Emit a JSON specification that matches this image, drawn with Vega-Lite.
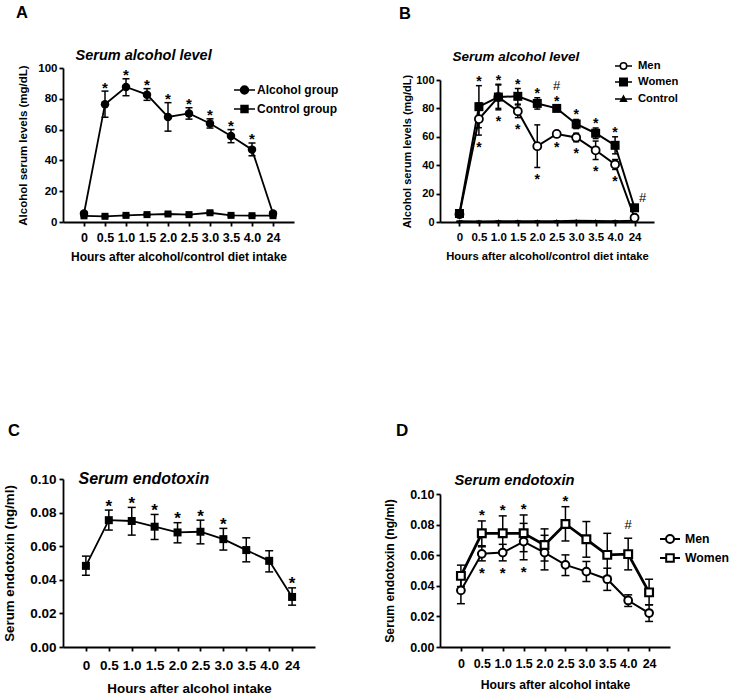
{
  "$schema": "https://vega.github.io/schema/vega-lite/v6.json",
  "padding": {"left": 2, "top": 5, "right": 2, "bottom": 2},
  "bounds": "flush",
  "columns": 2,
  "spacing": {"row": 257, "column": 125},
  "resolve": {"scale": {"shape": "independent", "fill": "independent", "stroke": "independent", "size": "independent", "strokeWidth": "independent"}, "legend": {"shape": "independent", "fill": "independent", "stroke": "independent"}},
  "datasets": {
    "a": [
      {"time": "0", "group": "Alcohol group", "mean": 5.5, "lo": 4.5, "hi": 6.5},
      {"time": "0.5", "group": "Alcohol group", "mean": 76.5, "lo": 68, "hi": 85, "above": "*"},
      {"time": "1.0", "group": "Alcohol group", "mean": 87.7, "lo": 82, "hi": 93, "above": "*"},
      {"time": "1.5", "group": "Alcohol group", "mean": 82.7, "lo": 79, "hi": 86.6, "above": "*"},
      {"time": "2.0", "group": "Alcohol group", "mean": 68.2, "lo": 59, "hi": 77.5, "above": "*"},
      {"time": "2.5", "group": "Alcohol group", "mean": 70.5, "lo": 66.8, "hi": 74.2, "above": "*"},
      {"time": "3.0", "group": "Alcohol group", "mean": 64, "lo": 61, "hi": 67, "above": "*"},
      {"time": "3.5", "group": "Alcohol group", "mean": 55.8, "lo": 51.5, "hi": 60, "above": "*"},
      {"time": "4.0", "group": "Alcohol group", "mean": 47, "lo": 43, "hi": 51.3, "above": "*"},
      {"time": "24", "group": "Alcohol group", "mean": 5.5, "lo": 4.5, "hi": 6.5},
      {"time": "0", "group": "Control group", "mean": 4, "lo": 3.5, "hi": 4.5},
      {"time": "0.5", "group": "Control group", "mean": 3.7, "lo": 3.2, "hi": 4.2},
      {"time": "1.0", "group": "Control group", "mean": 4.3, "lo": 3.8, "hi": 4.8},
      {"time": "1.5", "group": "Control group", "mean": 4.8, "lo": 4.3, "hi": 5.3},
      {"time": "2.0", "group": "Control group", "mean": 5.2, "lo": 4.7, "hi": 5.7},
      {"time": "2.5", "group": "Control group", "mean": 4.8, "lo": 4.3, "hi": 5.3},
      {"time": "3.0", "group": "Control group", "mean": 6, "lo": 5.3, "hi": 6.7},
      {"time": "3.5", "group": "Control group", "mean": 4.3, "lo": 3.8, "hi": 4.8},
      {"time": "4.0", "group": "Control group", "mean": 4.1, "lo": 3.6, "hi": 4.6},
      {"time": "24", "group": "Control group", "mean": 4.1, "lo": 3.6, "hi": 4.6}
    ],
    "b": [
      {"time": "0", "group": "Men", "mean": 5.5, "lo": 4.5, "hi": 6.5},
      {"time": "0.5", "group": "Men", "mean": 72.5, "lo": 61.2, "hi": 83.8, "below": "*"},
      {"time": "1.0", "group": "Men", "mean": 88, "lo": 79, "hi": 97, "below": "*"},
      {"time": "1.5", "group": "Men", "mean": 78, "lo": 73.5, "hi": 82.5, "below": "*"},
      {"time": "2.0", "group": "Men", "mean": 53.4, "lo": 38.4, "hi": 68.4, "below": "*"},
      {"time": "2.5", "group": "Men", "mean": 62, "lo": 61, "hi": 63, "below": "*"},
      {"time": "3.0", "group": "Men", "mean": 59.5, "lo": 56.5, "hi": 62.5, "below": "*"},
      {"time": "3.5", "group": "Men", "mean": 50.5, "lo": 44, "hi": 57, "below": "*"},
      {"time": "4.0", "group": "Men", "mean": 40.5, "lo": 37, "hi": 44, "below": "*"},
      {"time": "24", "group": "Men", "mean": 3, "lo": 2, "hi": 4},
      {"time": "0", "group": "Women", "mean": 6, "lo": 5, "hi": 7},
      {"time": "0.5", "group": "Women", "mean": 81.2, "lo": 66.4, "hi": 96, "above": "*"},
      {"time": "1.0", "group": "Women", "mean": 88, "lo": 80, "hi": 96.5, "above": "*"},
      {"time": "1.5", "group": "Women", "mean": 88.5, "lo": 83, "hi": 94, "above": "*"},
      {"time": "2.0", "group": "Women", "mean": 83.5, "lo": 79.5, "hi": 87.5, "above": "*"},
      {"time": "2.5", "group": "Women", "mean": 80, "lo": 78, "hi": 82, "above": "*", "above2": "#"},
      {"time": "3.0", "group": "Women", "mean": 69, "lo": 65.8, "hi": 72.2, "above": "*"},
      {"time": "3.5", "group": "Women", "mean": 62.5, "lo": 58.8, "hi": 66.2, "above": "*"},
      {"time": "4.0", "group": "Women", "mean": 54, "lo": 48, "hi": 60, "above": "*"},
      {"time": "24", "group": "Women", "mean": 10, "lo": 9, "hi": 11, "side": "#"},
      {"time": "0", "group": "Control", "mean": 0.5, "lo": 0.5, "hi": 0.5},
      {"time": "0.5", "group": "Control", "mean": 0.4, "lo": 0.4, "hi": 0.4},
      {"time": "1.0", "group": "Control", "mean": 0.5, "lo": 0.5, "hi": 0.5},
      {"time": "1.5", "group": "Control", "mean": 0.5, "lo": 0.5, "hi": 0.5},
      {"time": "2.0", "group": "Control", "mean": 0.5, "lo": 0.5, "hi": 0.5},
      {"time": "2.5", "group": "Control", "mean": 0.6, "lo": 0.6, "hi": 0.6},
      {"time": "3.0", "group": "Control", "mean": 0.9, "lo": 0.9, "hi": 0.9},
      {"time": "3.5", "group": "Control", "mean": 0.7, "lo": 0.7, "hi": 0.7},
      {"time": "4.0", "group": "Control", "mean": 0.6, "lo": 0.6, "hi": 0.6},
      {"time": "24", "group": "Control", "mean": 0.8, "lo": 0.8, "hi": 0.8}
    ],
    "c": [
      {"time": "0", "mean": 0.0483, "lo": 0.0427, "hi": 0.0541},
      {"time": "0.5", "mean": 0.0755, "lo": 0.0696, "hi": 0.0815, "above": "*"},
      {"time": "1.0", "mean": 0.075, "lo": 0.0666, "hi": 0.0831, "above": "*"},
      {"time": "1.5", "mean": 0.0716, "lo": 0.064, "hi": 0.0789, "above": "*"},
      {"time": "2.0", "mean": 0.0682, "lo": 0.062, "hi": 0.074, "above": "*"},
      {"time": "2.5", "mean": 0.0686, "lo": 0.0614, "hi": 0.0755, "above": "*"},
      {"time": "3.0", "mean": 0.0642, "lo": 0.0577, "hi": 0.0706, "above": "*"},
      {"time": "3.5", "mean": 0.0577, "lo": 0.0507, "hi": 0.065},
      {"time": "4.0", "mean": 0.0513, "lo": 0.0447, "hi": 0.0573},
      {"time": "24", "mean": 0.0298, "lo": 0.0249, "hi": 0.0352, "above": "*"}
    ],
    "d": [
      {"time": "0", "group": "Women", "mean": 0.0465, "lo": 0.0395, "hi": 0.0535},
      {"time": "0.5", "group": "Women", "mean": 0.0743, "lo": 0.0662, "hi": 0.0824, "above": "*"},
      {"time": "1.0", "group": "Women", "mean": 0.0743, "lo": 0.0629, "hi": 0.0857, "above": "*"},
      {"time": "1.5", "group": "Women", "mean": 0.0743, "lo": 0.0623, "hi": 0.0863, "above": "*"},
      {"time": "2.0", "group": "Women", "mean": 0.0667, "lo": 0.0562, "hi": 0.0772},
      {"time": "2.5", "group": "Women", "mean": 0.0804, "lo": 0.0693, "hi": 0.0917, "above": "*"},
      {"time": "3.0", "group": "Women", "mean": 0.0704, "lo": 0.0587, "hi": 0.082},
      {"time": "3.5", "group": "Women", "mean": 0.0602, "lo": 0.0461, "hi": 0.0743},
      {"time": "4.0", "group": "Women", "mean": 0.0607, "lo": 0.0504, "hi": 0.0711, "above2": "#"},
      {"time": "24", "group": "Women", "mean": 0.0357, "lo": 0.0276, "hi": 0.0443},
      {"time": "0", "group": "Men", "mean": 0.037, "lo": 0.0283, "hi": 0.0457},
      {"time": "0.5", "group": "Men", "mean": 0.0609, "lo": 0.0563, "hi": 0.0655, "below": "*"},
      {"time": "1.0", "group": "Men", "mean": 0.0617, "lo": 0.0563, "hi": 0.0671, "below": "*"},
      {"time": "1.5", "group": "Men", "mean": 0.0689, "lo": 0.057, "hi": 0.0808, "below": "*"},
      {"time": "2.0", "group": "Men", "mean": 0.0617, "lo": 0.0504, "hi": 0.073},
      {"time": "2.5", "group": "Men", "mean": 0.0537, "lo": 0.0467, "hi": 0.0602},
      {"time": "3.0", "group": "Men", "mean": 0.0493, "lo": 0.0428, "hi": 0.0559},
      {"time": "3.5", "group": "Men", "mean": 0.0443, "lo": 0.037, "hi": 0.0515},
      {"time": "4.0", "group": "Men", "mean": 0.0304, "lo": 0.0265, "hi": 0.0341},
      {"time": "24", "group": "Men", "mean": 0.0222, "lo": 0.0167, "hi": 0.0276}
    ]
  },
  "concat": [
    {
      "width": 231, "height": 154,
      "data": {"name": "a"},
      "title": {"text": "A", "anchor": "start", "frame": "group", "dx": -47, "offset": 13, "baseline": "alphabetic", "fontSize": 16.5},
      "resolve": {"axis": {"x": "independent"}},
      "layer": [
        {
          "encoding": {"x": {"field": "time", "type": "ordinal", "scale": {"type": "point", "padding": 1, "domain": ["0","0.5","1.0","1.5","2.0","2.5","3.0","3.5","4.0","24"]},
            "axis": {"title": "Hours after alcohol/control diet intake", "labelAngle": 0, "labelFontSize": 12.5, "labelPadding": 5, "titleFontSize": 12, "titlePadding": 8}}},
          "layer": [
            {"mark": {"type": "rule", "color": "black", "strokeWidth": 1.5},
             "encoding": {"y": {"field": "lo", "type": "quantitative", "scale": {"domain": [0, 100], "nice": false},
               "axis": {"title": "Alcohol serum levels (mg/dL)", "values": [0, 20, 40, 60, 80, 100], "tickCount": 6, "labelFontSize": 11.5, "labelPadding": 2, "titleFontSize": 11.5, "titlePadding": 9}},
               "y2": {"field": "hi"}}},
            {"mark": {"type": "tick", "color": "black", "thickness": 1.5, "size": 7, "opacity": 1}, "encoding": {"y": {"field": "lo", "type": "quantitative"}}},
            {"mark": {"type": "tick", "color": "black", "thickness": 1.5, "size": 7, "opacity": 1}, "encoding": {"y": {"field": "hi", "type": "quantitative"}}},
            {"mark": {"type": "line", "color": "black", "strokeWidth": 1.8}, "encoding": {"y": {"field": "mean", "type": "quantitative"}, "detail": {"field": "group"}}},
            {"transform": [{"filter": "datum.group == 'Alcohol group'"}],
             "mark": {"type": "point", "shape": "circle", "filled": true, "color": "black", "opacity": 1, "size": 72},
             "encoding": {"y": {"field": "mean", "type": "quantitative"}}},
            {"transform": [{"filter": "datum.group == 'Control group'"}],
             "mark": {"type": "point", "shape": "square", "filled": true, "color": "black", "opacity": 1, "size": 49},
             "encoding": {"y": {"field": "mean", "type": "quantitative"}}},
            {"transform": [{"filter": "datum.time == '0'"}],
             "mark": {"type": "point", "opacity": 0},
             "encoding": {
               "y": {"field": "mean", "type": "quantitative"},
               "shape": {"field": "group", "type": "nominal", "scale": {"domain": ["Alcohol group", "Control group"],
                 "range": ["M-1,0H1M0.38,0A0.38,0.38,0,1,1,-0.38,0A0.38,0.38,0,1,1,0.38,0Z", "M-1,0H1M-0.33,-0.33H0.33V0.33H-0.33Z"]},
                 "legend": {"title": null, "orient": "none", "legendX": 170, "legendY": 10.5, "symbolSize": 441, "symbolStrokeWidth": 1.5, "symbolOpacity": 1, "labelFontSize": 12, "labelOffset": 1, "rowPadding": -3}},
               "fill": {"field": "group", "type": "nominal", "scale": {"domain": ["Alcohol group", "Control group"], "range": ["black", "black"]},
                 "legend": {"title": null, "orient": "none", "legendX": 170, "legendY": 10.5, "symbolSize": 441, "symbolStrokeWidth": 1.5, "symbolOpacity": 1, "labelFontSize": 12, "labelOffset": 1, "rowPadding": -3}},
               "stroke": {"field": "group", "type": "nominal", "scale": {"domain": ["Alcohol group", "Control group"], "range": ["black", "black"]},
                 "legend": {"title": null, "orient": "none", "legendX": 170, "legendY": 10.5, "symbolSize": 441, "symbolStrokeWidth": 1.5, "symbolOpacity": 1, "labelFontSize": 12, "labelOffset": 1, "rowPadding": -3}}}}
          ]
        },
        {
          "transform": [{"filter": "datum.above"}],
          "mark": {"type": "text", "color": "black", "fontSize": 15, "fontWeight": "bold", "baseline": "alphabetic", "dy": 1.4},
          "encoding": {
            "x": {"field": "time", "type": "ordinal", "scale": {"type": "point", "padding": 1, "domain": ["0","0.5","1.0","1.5","2.0","2.5","3.0","3.5","4.0","24"]},
              "axis": {"orient": "top", "title": "Serum alcohol level", "domain": false, "ticks": false, "labels": false, "titleFontStyle": "italic", "titleFontSize": 14.5, "titleAnchor": "start", "titleAlign": "left", "titleBaseline": "alphabetic", "titleX": 12, "titleY": -8.5}},
            "y": {"field": "hi", "type": "quantitative"},
            "text": {"field": "above"}}
        }
      ]
    },
    {
      "width": 214, "height": 154,
      "data": {"name": "b"},
      "title": {"text": "B", "anchor": "start", "frame": "group", "dx": -41, "offset": 14, "baseline": "alphabetic", "fontSize": 16.5},
      "resolve": {"axis": {"x": "independent"}},
      "layer": [
        {
          "encoding": {"x": {"field": "time", "type": "ordinal", "scale": {"type": "point", "padding": 1, "domain": ["0","0.5","1.0","1.5","2.0","2.5","3.0","3.5","4.0","24"]},
            "axis": {"title": "Hours after alcohol/control diet intake", "labelAngle": 0, "labelFontSize": 11.5, "labelPadding": 5.3, "titleFontSize": 11.25, "titlePadding": 7.2}}},
          "layer": [
            {"mark": {"type": "rule", "color": "black", "strokeWidth": 1.5},
             "encoding": {"y": {"field": "lo", "type": "quantitative", "scale": {"domain": [0, 100], "range": [154, 12], "nice": false},
               "axis": {"title": "Alcohol serum levels (mg/dL)", "values": [0, 20, 40, 60, 80, 100], "tickCount": 6, "labelFontSize": 11, "labelPadding": 2, "titleFontSize": 11, "titlePadding": 3.5}},
               "y2": {"field": "hi"}}},
            {"mark": {"type": "tick", "color": "black", "thickness": 1.5, "size": 6, "opacity": 1}, "encoding": {"y": {"field": "lo", "type": "quantitative"}}},
            {"mark": {"type": "tick", "color": "black", "thickness": 1.5, "size": 6, "opacity": 1}, "encoding": {"y": {"field": "hi", "type": "quantitative"}}},
            {"mark": {"type": "line", "color": "black", "strokeWidth": 2}, "encoding": {"y": {"field": "mean", "type": "quantitative"}, "detail": {"field": "group"}}},
            {"transform": [{"filter": "datum.group == 'Control'"}],
             "mark": {"type": "point", "shape": "triangle-up", "filled": true, "color": "black", "opacity": 1, "size": 22},
             "encoding": {"y": {"field": "mean", "type": "quantitative"}}},
            {"transform": [{"filter": "datum.group == 'Men'"}],
             "mark": {"type": "point", "shape": "circle", "fill": "white", "stroke": "black", "strokeWidth": 1.8, "opacity": 1, "size": 64},
             "encoding": {"y": {"field": "mean", "type": "quantitative"}}},
            {"transform": [{"filter": "datum.group == 'Women'"}],
             "mark": {"type": "point", "shape": "square", "filled": true, "color": "black", "opacity": 1, "size": 81},
             "encoding": {"y": {"field": "mean", "type": "quantitative"}}},
            {"transform": [{"filter": "datum.time == '0'"}],
             "mark": {"type": "point", "opacity": 0},
             "encoding": {
               "y": {"field": "mean", "type": "quantitative"},
               "shape": {"field": "group", "type": "nominal", "scale": {"domain": ["Men", "Women", "Control"],
                 "range": ["M-1,0H-0.38M0.38,0H1M0.38,0A0.38,0.38,0,1,1,-0.38,0A0.38,0.38,0,1,1,0.38,0Z", "M-1,0H1M-0.44,-0.44H0.44V0.44H-0.44Z", "M-1,0H1M0,-0.34L0.34,0.26H-0.34Z"]},
                 "legend": {"title": null, "orient": "none", "legendX": 174, "legendY": -11.5, "symbolSize": 289, "symbolStrokeWidth": 1.5, "symbolOpacity": 1, "labelFontSize": 11.25, "labelOffset": 5, "rowPadding": 0}},
               "fill": {"field": "group", "type": "nominal", "scale": {"domain": ["Men", "Women", "Control"], "range": ["white", "black", "black"]},
                 "legend": {"title": null, "orient": "none", "legendX": 174, "legendY": -11.5, "symbolSize": 289, "symbolStrokeWidth": 1.5, "symbolOpacity": 1, "labelFontSize": 11.25, "labelOffset": 5, "rowPadding": 0}},
               "stroke": {"field": "group", "type": "nominal", "scale": {"domain": ["Men", "Women", "Control"], "range": ["black", "black", "black"]},
                 "legend": {"title": null, "orient": "none", "legendX": 174, "legendY": -11.5, "symbolSize": 289, "symbolStrokeWidth": 1.5, "symbolOpacity": 1, "labelFontSize": 11.25, "labelOffset": 5, "rowPadding": 0}}}}
          ]
        },
        {
          "encoding": {"x": {"field": "time", "type": "ordinal", "scale": {"type": "point", "padding": 1, "domain": ["0","0.5","1.0","1.5","2.0","2.5","3.0","3.5","4.0","24"]},
            "axis": {"orient": "top", "title": "Serum alcohol level", "domain": false, "ticks": false, "labels": false, "titleFontStyle": "italic", "titleFontSize": 13.5, "titleAnchor": "start", "titleAlign": "left", "titleBaseline": "alphabetic", "titleX": 12, "titleY": -8}}},
          "layer": [
            {"transform": [{"filter": "datum.above"}], "mark": {"type": "text", "color": "black", "fontSize": 14, "fontWeight": "bold", "baseline": "alphabetic", "dy": 0},
             "encoding": {"y": {"field": "hi", "type": "quantitative"}, "text": {"field": "above"}}},
            {"transform": [{"filter": "datum.above2"}], "mark": {"type": "text", "color": "black", "fontSize": 13, "fontWeight": "normal", "baseline": "alphabetic", "dy": -15.8},
             "encoding": {"y": {"field": "hi", "type": "quantitative"}, "text": {"field": "above2"}}},
            {"transform": [{"filter": "datum.side"}], "mark": {"type": "text", "color": "black", "fontSize": 13, "fontWeight": "normal", "baseline": "alphabetic", "dx": 8, "dy": -4.5},
             "encoding": {"y": {"field": "hi", "type": "quantitative"}, "text": {"field": "side"}}},
            {"transform": [{"filter": "datum.below"}], "mark": {"type": "text", "color": "black", "fontSize": 14, "fontWeight": "bold", "baseline": "alphabetic", "dy": 16.5},
             "encoding": {"y": {"field": "lo", "type": "quantitative"}, "text": {"field": "below"}}}
          ]
        }
      ]
    },
    {
      "width": 252, "height": 168,
      "data": {"name": "c"},
      "title": {"text": "C", "anchor": "start", "frame": "group", "dx": -55, "offset": 18, "baseline": "alphabetic", "fontSize": 16.5},
      "resolve": {"axis": {"x": "independent"}},
      "layer": [
        {
          "encoding": {"x": {"field": "time", "type": "ordinal", "scale": {"type": "point", "padding": 1, "domain": ["0","0.5","1.0","1.5","2.0","2.5","3.0","3.5","4.0","24"]},
            "axis": {"title": "Hours after alcohol intake", "labelAngle": 0, "labelFontSize": 13.5, "labelPadding": 7.3, "titleFontSize": 13.4, "titlePadding": 9.9}}},
          "layer": [
            {"mark": {"type": "rule", "color": "black", "strokeWidth": 1.5},
             "encoding": {"y": {"field": "lo", "type": "quantitative", "scale": {"domain": [0, 0.1], "nice": false},
               "axis": {"title": "Serum endotoxin (ng/ml)", "values": [0, 0.02, 0.04, 0.06, 0.08, 0.1], "tickCount": 6, "format": ".2f", "labelFontSize": 13.5, "labelPadding": 3, "titleFontSize": 13.3, "titlePadding": 12.9}},
               "y2": {"field": "hi"}}},
            {"mark": {"type": "tick", "color": "black", "thickness": 1.5, "size": 8, "opacity": 1}, "encoding": {"y": {"field": "lo", "type": "quantitative"}}},
            {"mark": {"type": "tick", "color": "black", "thickness": 1.5, "size": 8, "opacity": 1}, "encoding": {"y": {"field": "hi", "type": "quantitative"}}},
            {"mark": {"type": "line", "color": "black", "strokeWidth": 1.8}, "encoding": {"y": {"field": "mean", "type": "quantitative"}}},
            {"mark": {"type": "point", "shape": "square", "filled": true, "color": "black", "opacity": 1, "size": 64}, "encoding": {"y": {"field": "mean", "type": "quantitative"}}}
          ]
        },
        {
          "transform": [{"filter": "datum.above"}],
          "mark": {"type": "text", "color": "black", "fontSize": 17, "fontWeight": "bold", "baseline": "alphabetic", "dy": 1.5},
          "encoding": {
            "x": {"field": "time", "type": "ordinal", "scale": {"type": "point", "padding": 1, "domain": ["0","0.5","1.0","1.5","2.0","2.5","3.0","3.5","4.0","24"]},
              "axis": {"orient": "top", "title": "Serum endotoxin", "domain": false, "ticks": false, "labels": false, "titleFontStyle": "italic", "titleFontSize": 16, "titleAnchor": "start", "titleAlign": "left", "titleBaseline": "alphabetic", "titleX": 15, "titleY": 4}},
            "y": {"field": "hi", "type": "quantitative"},
            "text": {"field": "above"}}
        }
      ]
    },
    {
      "width": 230, "height": 168,
      "data": {"name": "d"},
      "title": {"text": "D", "anchor": "start", "frame": "group", "dx": -44, "offset": 19, "baseline": "alphabetic", "fontSize": 17},
      "resolve": {"axis": {"x": "independent"}},
      "layer": [
        {
          "encoding": {"x": {"field": "time", "type": "ordinal", "scale": {"type": "point", "padding": 1, "domain": ["0","0.5","1.0","1.5","2.0","2.5","3.0","3.5","4.0","24"]},
            "axis": {"title": "Hours after alcohol intake", "labelAngle": 0, "labelFontSize": 12.5, "labelPadding": 6, "titleFontSize": 12.2, "titlePadding": 9}}},
          "layer": [
            {"mark": {"type": "rule", "color": "black", "strokeWidth": 1.5},
             "encoding": {"y": {"field": "lo", "type": "quantitative", "scale": {"domain": [0, 0.1], "range": [168, 15], "nice": false},
               "axis": {"title": "Serum endotoxin (ng/ml)", "values": [0, 0.02, 0.04, 0.06, 0.08, 0.1], "tickCount": 6, "format": ".2f", "labelFontSize": 12.5, "labelPadding": 2, "titleFontSize": 12.2, "titlePadding": 13.1}},
               "y2": {"field": "hi"}}},
            {"mark": {"type": "tick", "color": "black", "thickness": 1.5, "size": 8, "opacity": 1}, "encoding": {"y": {"field": "lo", "type": "quantitative"}}},
            {"mark": {"type": "tick", "color": "black", "thickness": 1.5, "size": 8, "opacity": 1}, "encoding": {"y": {"field": "hi", "type": "quantitative"}}},
            {"transform": [{"filter": "datum.group == 'Men'"}], "mark": {"type": "line", "color": "black", "strokeWidth": 2}, "encoding": {"y": {"field": "mean", "type": "quantitative"}}},
            {"transform": [{"filter": "datum.group == 'Women'"}], "mark": {"type": "line", "color": "black", "strokeWidth": 2.8}, "encoding": {"y": {"field": "mean", "type": "quantitative"}}},
            {"transform": [{"filter": "datum.group == 'Men'"}],
             "mark": {"type": "point", "shape": "circle", "fill": "white", "stroke": "black", "strokeWidth": 2, "opacity": 1, "size": 60},
             "encoding": {"y": {"field": "mean", "type": "quantitative"}}},
            {"transform": [{"filter": "datum.group == 'Women'"}],
             "mark": {"type": "point", "shape": "square", "fill": "white", "stroke": "black", "strokeWidth": 2.2, "opacity": 1, "size": 60},
             "encoding": {"y": {"field": "mean", "type": "quantitative"}}},
            {"transform": [{"filter": "datum.time == '0'"}],
             "mark": {"type": "point", "opacity": 0},
             "encoding": {
               "y": {"field": "mean", "type": "quantitative"},
               "shape": {"field": "group", "type": "nominal", "scale": {"domain": ["Men", "Women"],
                 "range": ["M-1,0H-0.4M0.4,0H1M0.4,0A0.4,0.4,0,1,1,-0.4,0A0.4,0.4,0,1,1,0.4,0Z", "M-1,0H-0.38M0.38,0H1M-0.38,-0.38H0.38V0.38H-0.38Z"]},
                 "legend": {"title": null, "orient": "none", "legendX": 219, "legendY": 49, "symbolSize": 400, "symbolStrokeWidth": 2, "symbolOpacity": 1, "labelFontSize": 12.25, "labelOffset": 4, "rowPadding": -1}},
               "fill": {"field": "group", "type": "nominal", "scale": {"domain": ["Men", "Women"], "range": ["white", "white"]},
                 "legend": {"title": null, "orient": "none", "legendX": 219, "legendY": 49, "symbolSize": 400, "symbolStrokeWidth": 2, "symbolOpacity": 1, "labelFontSize": 12.25, "labelOffset": 4, "rowPadding": -1}},
               "stroke": {"field": "group", "type": "nominal", "scale": {"domain": ["Men", "Women"], "range": ["black", "black"]},
                 "legend": {"title": null, "orient": "none", "legendX": 219, "legendY": 49, "symbolSize": 400, "symbolStrokeWidth": 2, "symbolOpacity": 1, "labelFontSize": 12.25, "labelOffset": 4, "rowPadding": -1}}}}
          ]
        },
        {
          "encoding": {"x": {"field": "time", "type": "ordinal", "scale": {"type": "point", "padding": 1, "domain": ["0","0.5","1.0","1.5","2.0","2.5","3.0","3.5","4.0","24"]},
            "axis": {"orient": "top", "title": "Serum endotoxin", "domain": false, "ticks": false, "labels": false, "titleFontStyle": "italic", "titleFontSize": 14.7, "titleAnchor": "start", "titleAlign": "left", "titleBaseline": "alphabetic", "titleX": 14, "titleY": 5}}},
          "layer": [
            {"transform": [{"filter": "datum.above"}], "mark": {"type": "text", "color": "black", "fontSize": 15, "fontWeight": "bold", "baseline": "alphabetic", "dy": -0.9},
             "encoding": {"y": {"field": "hi", "type": "quantitative"}, "text": {"field": "above"}}},
            {"transform": [{"filter": "datum.above2"}], "mark": {"type": "text", "color": "black", "fontSize": 13, "fontWeight": "normal", "baseline": "alphabetic", "dy": -9.7},
             "encoding": {"y": {"field": "hi", "type": "quantitative"}, "text": {"field": "above2"}}},
            {"transform": [{"filter": "datum.below"}], "mark": {"type": "text", "color": "black", "fontSize": 15, "fontWeight": "bold", "baseline": "alphabetic", "dy": 16.9},
             "encoding": {"y": {"field": "lo", "type": "quantitative"}, "text": {"field": "below"}}}
          ]
        }
      ]
    }
  ],
  "config": {
    "view": {"stroke": null},
    "font": "Liberation Sans",
    "axis": {"domainColor": "black", "domainWidth": 1.8, "tickColor": "black", "tickWidth": 1.8, "tickSize": 4, "grid": false, "labelOverlap": false,
      "labelColor": "black", "labelFont": "Liberation Sans", "labelFontWeight": "bold",
      "titleColor": "black", "titleFont": "Liberation Sans", "titleFontWeight": "bold"},
    "axisY": {"labelOverlap": false},
    "axisQuantitative": {"labelOverlap": false},
    "legend": {"labelFont": "Liberation Sans", "labelFontWeight": "bold", "labelColor": "black", "labelLimit": 300},
    "title": {"font": "Liberation Sans", "fontWeight": "bold", "color": "black"},
    "text": {"font": "Liberation Sans"}
  }
}
